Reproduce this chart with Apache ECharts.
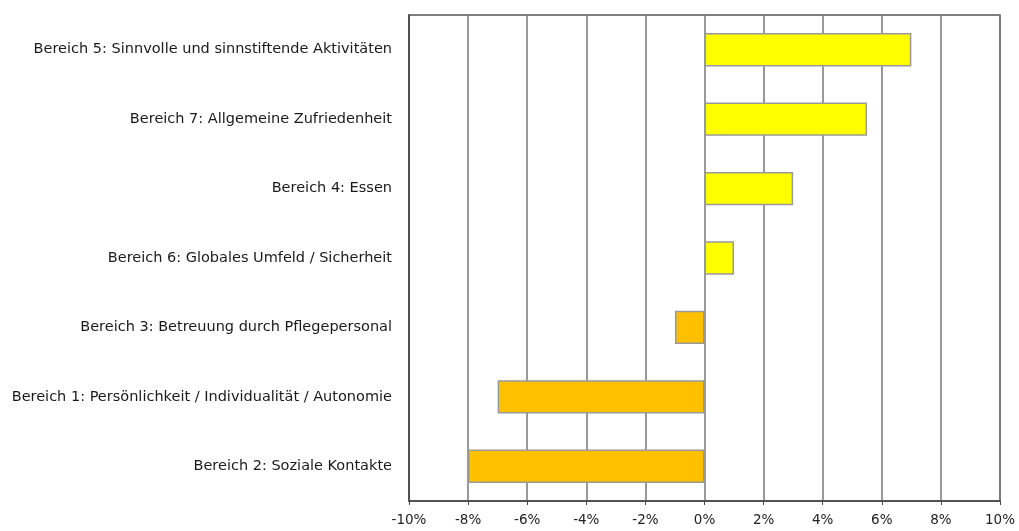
<!DOCTYPE html>
<html>
<head>
<meta charset="utf-8">
<script src="https://cdn.jsdelivr.net/npm/echarts@6/dist/echarts.min.js"></script>
<style>
  html, body { margin: 0; padding: 0; background: #fff; }
  #chart { width: 1019px; height: 531px; }
</style>
</head>
<body>
<div id="chart"></div>
<script>
// Bereiche von oben nach unten
const categories = [
    'Bereich 5: Sinnvolle und sinnstiftende Aktivitäten',
    'Bereich 7: Allgemeine Zufriedenheit',
    'Bereich 4: Essen',
    'Bereich 6: Globales Umfeld / Sicherheit',
    'Bereich 3: Betreuung durch Pflegepersonal',
    'Bereich 1: Persönlichkeit / Individualität / Autonomie',
    'Bereich 2: Soziale Kontakte'
];
// Veränderung in Prozent
const values = [7.0, 5.5, 3.0, 1.0, -1.0, -7.0, -8.0];
const xTicks = [-10, -8, -6, -4, -2, 0, 2, 4, 6, 8, 10];

const chart = echarts.init(document.getElementById('chart'));

chart.setOption({
    animation: false,
    grid: {
        left: 409, right: 19, top: 15, bottom: 30,
        show: true, borderColor: '#555', borderWidth: 1.5
    },
    xAxis: {
        type: 'value',
        min: xTicks[0],
        max: xTicks[xTicks.length - 1],
        interval: 2,
        axisLine: { show: true, lineStyle: { color: '#444', width: 1.5 } },
        axisTick: { show: true, length: 4, lineStyle: { color: '#444' } },
        splitLine: { show: true, lineStyle: { color: '#777', width: 1.5 } },
        axisLabel: {
            formatter: v => v + '%',
            color: '#222',
            fontFamily: 'DejaVu Sans',
            fontSize: 13.5,
            margin: 12
        }
    },
    yAxis: {
        type: 'category',
        data: categories,
        inverse: true,
        axisLine: { show: true, onZero: false, lineStyle: { color: '#444', width: 1.5 } },
        axisTick: { show: false },
        axisLabel: {
            color: '#1a1a1a',
            fontFamily: 'DejaVu Sans',
            fontSize: 14.5,
            margin: 17
        }
    },
    series: [{
        type: 'bar',
        data: values,
        barWidth: '48%',
        itemStyle: {
            color: p => (p.value >= 0 ? '#FFFF00' : '#FFC000'),
            borderColor: '#999',
            borderWidth: 1.5
        }
    }]
});
</script>
</body>
</html>
